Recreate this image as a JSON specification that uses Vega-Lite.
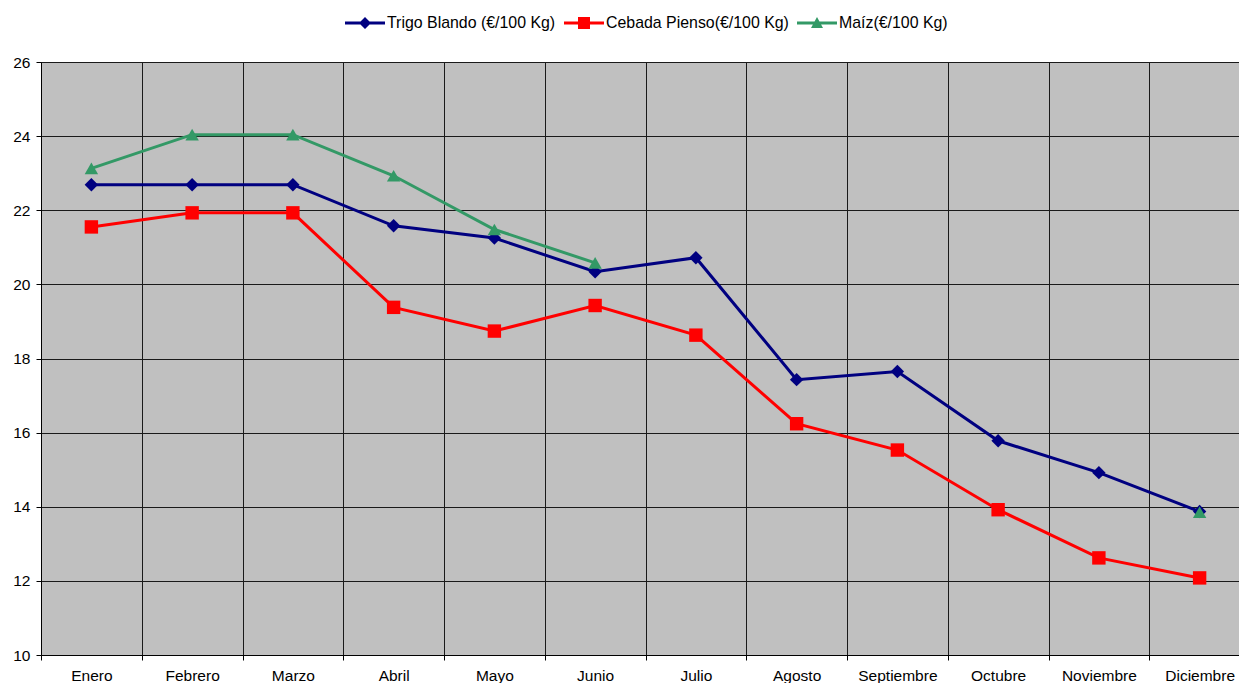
{
  "$schema": "https://vega.github.io/schema/vega-lite/v6.json",
  "width": 1198,
  "height": 593,
  "autosize": "none",
  "padding": {"left": 41, "top": 62, "right": 0, "bottom": 28},
  "background": "white",
  "config": {
    "font": "Liberation Sans",
    "view": {"fill": "#c0c0c0", "stroke": null},
    "axis": {"labelFont": "Liberation Sans", "labelFontSize": 15.5, "labelColor": "#000", "domainColor": "#000", "tickColor": "#000", "gridColor": "#1a1a1a", "gridOpacity": 1, "gridWidth": 1, "tickSize": 5, "domainWidth": 1},
    "legend": {"labelFont": "Liberation Sans", "labelFontSize": 15.9, "labelColor": "#000", "labelLimit": 500}
  },
  "data": {
    "values": [
      {"mes": "Enero", "serie": "Trigo Blando (€/100 Kg)", "valor": 22.69},
      {"mes": "Febrero", "serie": "Trigo Blando (€/100 Kg)", "valor": 22.69},
      {"mes": "Marzo", "serie": "Trigo Blando (€/100 Kg)", "valor": 22.69},
      {"mes": "Abril", "serie": "Trigo Blando (€/100 Kg)", "valor": 21.58},
      {"mes": "Mayo", "serie": "Trigo Blando (€/100 Kg)", "valor": 21.25},
      {"mes": "Junio", "serie": "Trigo Blando (€/100 Kg)", "valor": 20.34},
      {"mes": "Julio", "serie": "Trigo Blando (€/100 Kg)", "valor": 20.72},
      {"mes": "Agosto", "serie": "Trigo Blando (€/100 Kg)", "valor": 17.43},
      {"mes": "Septiembre", "serie": "Trigo Blando (€/100 Kg)", "valor": 17.65},
      {"mes": "Octubre", "serie": "Trigo Blando (€/100 Kg)", "valor": 15.78},
      {"mes": "Noviembre", "serie": "Trigo Blando (€/100 Kg)", "valor": 14.92},
      {"mes": "Diciembre", "serie": "Trigo Blando (€/100 Kg)", "valor": 13.87},
      {"mes": "Enero", "serie": "Cebada Pienso(€/100 Kg)", "valor": 21.55},
      {"mes": "Febrero", "serie": "Cebada Pienso(€/100 Kg)", "valor": 21.93},
      {"mes": "Marzo", "serie": "Cebada Pienso(€/100 Kg)", "valor": 21.93},
      {"mes": "Abril", "serie": "Cebada Pienso(€/100 Kg)", "valor": 19.38},
      {"mes": "Mayo", "serie": "Cebada Pienso(€/100 Kg)", "valor": 18.74},
      {"mes": "Junio", "serie": "Cebada Pienso(€/100 Kg)", "valor": 19.43},
      {"mes": "Julio", "serie": "Cebada Pienso(€/100 Kg)", "valor": 18.63},
      {"mes": "Agosto", "serie": "Cebada Pienso(€/100 Kg)", "valor": 16.24},
      {"mes": "Septiembre", "serie": "Cebada Pienso(€/100 Kg)", "valor": 15.53},
      {"mes": "Octubre", "serie": "Cebada Pienso(€/100 Kg)", "valor": 13.92},
      {"mes": "Noviembre", "serie": "Cebada Pienso(€/100 Kg)", "valor": 12.62},
      {"mes": "Diciembre", "serie": "Cebada Pienso(€/100 Kg)", "valor": 12.08},
      {"mes": "Enero", "serie": "Maíz(€/100 Kg)", "valor": 23.13},
      {"mes": "Febrero", "serie": "Maíz(€/100 Kg)", "valor": 24.04},
      {"mes": "Marzo", "serie": "Maíz(€/100 Kg)", "valor": 24.04},
      {"mes": "Abril", "serie": "Maíz(€/100 Kg)", "valor": 22.93},
      {"mes": "Mayo", "serie": "Maíz(€/100 Kg)", "valor": 21.48},
      {"mes": "Junio", "serie": "Maíz(€/100 Kg)", "valor": 20.58},
      {"mes": "Julio", "serie": "Maíz(€/100 Kg)", "valor": null},
      {"mes": "Agosto", "serie": "Maíz(€/100 Kg)", "valor": null},
      {"mes": "Septiembre", "serie": "Maíz(€/100 Kg)", "valor": null},
      {"mes": "Octubre", "serie": "Maíz(€/100 Kg)", "valor": null},
      {"mes": "Noviembre", "serie": "Maíz(€/100 Kg)", "valor": null},
      {"mes": "Diciembre", "serie": "Maíz(€/100 Kg)", "valor": 13.85}
    ]
  },
  "encoding": {
    "x": {
      "field": "mes",
      "type": "nominal",
      "sort": ["Enero", "Febrero", "Marzo", "Abril", "Mayo", "Junio", "Julio", "Agosto", "Septiembre", "Octubre", "Noviembre", "Diciembre"],
      "scale": {"type": "band", "paddingInner": 0, "paddingOuter": 0, "range": [0, 1209]},
      "axis": {"title": null, "labelAngle": 0, "grid": true, "tickBand": "extent", "labelPadding": 8, "labelBaseline": "top"}
    },
    "y": {
      "field": "valor",
      "type": "quantitative",
      "scale": {"domain": [10, 26], "nice": false, "zero": false},
      "axis": {"title": null, "values": [10, 12, 14, 16, 18, 20, 22, 24, 26], "grid": true, "labelPadding": 6}
    }
  },
  "layer": [
    {
      "mark": {"type": "line", "strokeWidth": 3, "invalid": "break-paths-show-domains"},
      "encoding": {
        "color": {
          "field": "serie",
          "type": "nominal",
          "scale": {"domain": ["Trigo Blando (€/100 Kg)", "Cebada Pienso(€/100 Kg)", "Maíz(€/100 Kg)"], "range": ["#000080", "#ff0000", "#339966"]},
          "legend": null
        }
      }
    },
    {
      "mark": {"type": "point", "filled": true, "opacity": 1, "size": 180},
      "encoding": {
        "shape": {
          "field": "serie",
          "type": "nominal",
          "scale": {"domain": ["Trigo Blando (€/100 Kg)", "Cebada Pienso(€/100 Kg)", "Maíz(€/100 Kg)"], "range": ["diamond", "square", "triangle-up"]},
          "legend": null
        },
        "color": {
          "field": "serie",
          "type": "nominal",
          "scale": {"domain": ["Trigo Blando (€/100 Kg)", "Cebada Pienso(€/100 Kg)", "Maíz(€/100 Kg)"], "range": ["#000080", "#ff0000", "#339966"]},
          "legend": null
        }
      }
    },
    {
      "mark": {"type": "point", "filled": true, "opacity": 0, "size": 10},
      "encoding": {
        "shape": {
          "field": "serie",
          "type": "nominal",
          "scale": {"domain": ["Trigo Blando (€/100 Kg)", "Cebada Pienso(€/100 Kg)", "Maíz(€/100 Kg)"], "range": ["M-1,-0.075H1V0.075H-1Z M0,-0.3L0.3,0L0,0.3L-0.3,0Z", "M-1,-0.075H1V0.075H-1Z M-0.3,-0.3H0.3V0.3H-0.3Z", "M-1,-0.075H1V0.075H-1Z M0,-0.3L0.3,0.25H-0.3Z"]},
          "legend": {
            "orient": "none", "legendX": 304, "legendY": -59, "direction": "horizontal", "title": null,
            "symbolSize": 1600, "labelOffset": 2, "columnPadding": 8, "symbolStrokeWidth": 0, "symbolOpacity": 1
          }
        },
        "color": {
          "field": "serie",
          "type": "nominal",
          "scale": {"domain": ["Trigo Blando (€/100 Kg)", "Cebada Pienso(€/100 Kg)", "Maíz(€/100 Kg)"], "range": ["#000080", "#ff0000", "#339966"]},
          "legend": {
            "orient": "none", "legendX": 304, "legendY": -59, "direction": "horizontal", "title": null,
            "symbolSize": 1600, "labelOffset": 2, "columnPadding": 8, "symbolStrokeWidth": 0, "symbolOpacity": 1
          }
        }
      }
    }
  ],
  "resolve": {
    "scale": {"color": "independent", "shape": "independent"},
    "legend": {"color": "independent", "shape": "independent"}
  }
}
